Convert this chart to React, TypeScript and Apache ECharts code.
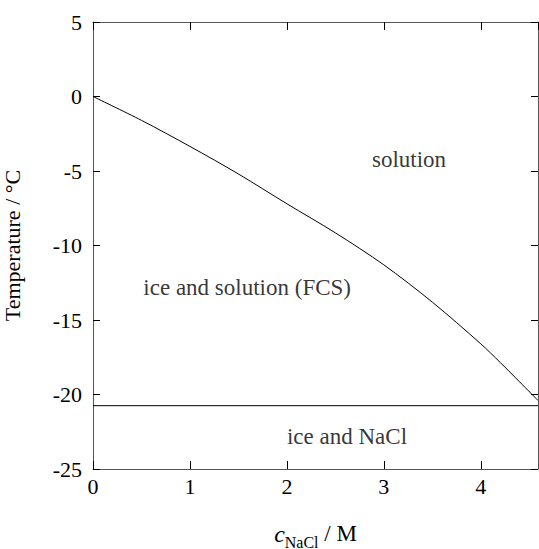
import React, { useEffect, useRef } from "react";
import * as echarts from "echarts";

const concentration = [0, 0.5, 1, 1.5, 2, 2.5, 3, 3.5, 4, 4.2, 4.4, 4.59];
const freezingTemp = [0, -1.6, -3.35, -5.2, -7.2, -9.15, -11.3, -13.8, -16.6, -17.85, -19.15, -20.4];
const eutecticX = [0, 4.59];
const eutecticT = [-20.75, -20.75];
const regionNames = ["solution", "ice and solution (FCS)", "ice and NaCl"];
const regionX = [3.26, 1.59, 2.62];
const regionY = [-4.26, -12.85, -22.85];

const FONT = "Liberation Serif";

export default function App() {
  const ref = useRef<HTMLDivElement>(null);
  useEffect(() => {
    if (!ref.current) return;
    const chart = echarts.init(ref.current, null, { renderer: "svg" });
    const axisLine = { show: true, onZero: false, lineStyle: { color: "#555", width: 1 } };
    chart.setOption({
      animation: false,
      grid: { left: 93, right: 1, top: 22, bottom: 80, outerBoundsMode: "none", containLabel: false },
      xAxis: [
        {
          type: "value",
          min: 0,
          max: 4.59,
          interval: 1,
          position: "bottom",
          axisLine,
          axisTick: { show: true, inside: true, length: 8, lineStyle: { color: "#000" } },
          axisLabel: {
            color: "#000",
            fontFamily: FONT,
            fontSize: 22,
            margin: 6,
            showMaxLabel: false,
          },
          splitLine: { show: false },
          name: "{c|c}{sub|NaCl}{n| / M}",
          nameLocation: "middle",
          nameGap: 53,
          nameTextStyle: {
            rich: {
              c: { fontFamily: FONT, fontSize: 24, fontStyle: "italic", color: "#000", verticalAlign: "top", lineHeight: 28 },
              sub: { fontFamily: FONT, fontSize: 16, color: "#000", verticalAlign: "bottom", lineHeight: 28, padding: [11, 0, 0, 0] },
              n: { fontFamily: FONT, fontSize: 23, color: "#000", verticalAlign: "top", lineHeight: 28 },
            },
          },
        },
        {
          type: "value",
          min: 0,
          max: 4.59,
          interval: 1,
          position: "top",
          axisLine,
          axisTick: { show: true, inside: true, length: 8, lineStyle: { color: "#000" } },
          axisLabel: { show: false },
          splitLine: { show: false },
        },
      ],
      yAxis: [
        {
          type: "value",
          min: -25,
          max: 5,
          interval: 5,
          position: "left",
          axisLine,
          axisTick: { show: true, inside: true, length: 7, lineStyle: { color: "#000" } },
          axisLabel: { color: "#000", fontFamily: FONT, fontSize: 22, margin: 11 },
          splitLine: { show: false },
          name: "Temperature / °C",
          nameLocation: "middle",
          nameGap: 70,
          nameRotate: 90,
          nameTextStyle: { color: "#000", fontFamily: FONT, fontSize: 22 },
        },
        {
          type: "value",
          min: -25,
          max: 5,
          interval: 5,
          position: "right",
          axisLine,
          axisTick: { show: true, inside: true, length: 7, lineStyle: { color: "#000" } },
          axisLabel: { show: false },
          splitLine: { show: false },
        },
      ],
      series: [
        {
          type: "line",
          data: concentration.map((x, i) => [x, freezingTemp[i]]),
          smooth: 0.3,
          showSymbol: false,
          lineStyle: { color: "#000", width: 1 },
        },
        {
          type: "line",
          data: eutecticX.map((x, i) => [x, eutecticT[i]]),
          showSymbol: false,
          lineStyle: { color: "#000", width: 1 },
        },
        {
          type: "scatter",
          symbolSize: 0,
          data: regionNames.map((n, i) => ({ name: n, value: [regionX[i], regionY[i]] })),
          label: {
            show: true,
            position: "inside",
            formatter: "{b}",
            color: "#000",
            fontFamily: FONT,
            fontSize: 23,
          },
        },
      ],
    });
    return () => chart.dispose();
  }, []);
  return <div ref={ref} style={{ width: 539, height: 549, position: "absolute", left: 0, top: 0 }} />;
}
